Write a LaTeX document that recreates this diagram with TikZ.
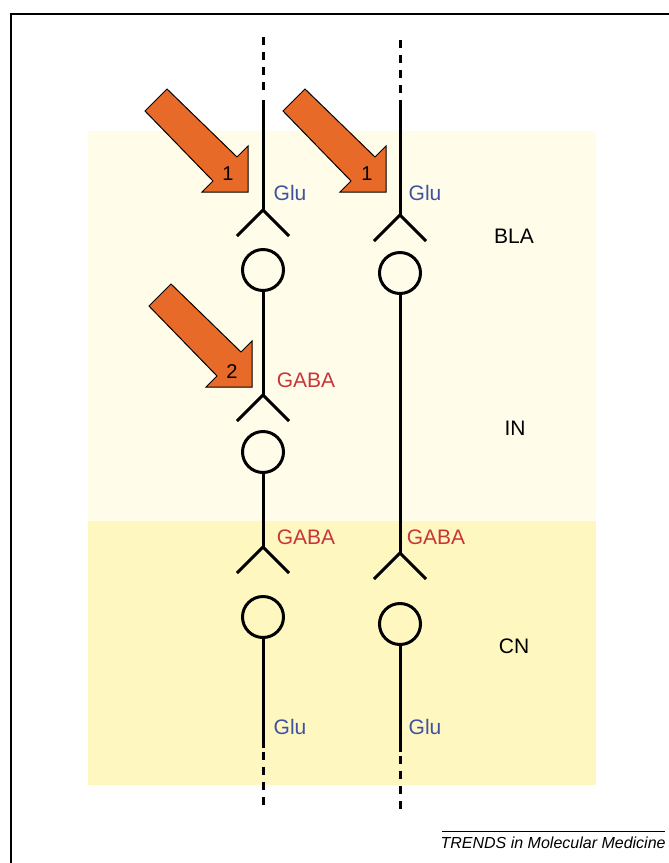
\documentclass[tikz,border=0pt]{standalone}
\usepackage{fontspec}
\setmainfont{Liberation Sans}
\usetikzlibrary{calc}

\definecolor{blapale}{HTML}{FFFDEA}
\definecolor{cnyellow}{HTML}{FEF8C0}
\definecolor{hitorange}{HTML}{E86A28}
\definecolor{glublue}{HTML}{3F51A3}
\definecolor{gabared}{HTML}{C8353A}

\begin{document}
\begin{tikzpicture}[
    x=0.5pt, y=-0.5pt,
    % neuron parts
    axon/.style={line width=1.5pt},
    dashaxon/.style={line width=1.5pt, dash pattern=on 4pt off 3.5pt},
    soma/.style={circle, draw, line width=1.5pt, minimum size=20.5pt, inner sep=0pt},
    % labels
    region/.style={font=\fontsize{10.5}{12}\selectfont, inner sep=1pt},
    glu/.style={text=glublue, font=\fontsize{10.5}{12}\selectfont, inner sep=1pt},
    gaba/.style={text=gabared, font=\fontsize{10.5}{12}\selectfont, inner sep=1pt},
    numlbl/.style={font=\fontsize{10}{12}\selectfont, inner sep=0pt},
    % stimulation arrows
    hitarrow/.style={fill=hitorange, draw=black, line width=0.5pt, line join=miter},
    hit/.pic={\draw[hitarrow] (0,0) -- (-46,0) -- (-35,-11) -- (-103,-81) -- (-81,-103) -- (-11,-35) -- (0,-46) -- cycle;}
]

    \useasboundingbox (0,0) rectangle (669,863);

    % --- Frame and background regions ---
    \draw[line width=1pt] (11,863) -- (11,14) -- (669,14);
    \fill[blapale] (88,131) rectangle (596,521);
    \fill[cnyellow] (88,521) rectangle (596,785);

    % --- Left chain (BLA -> IN -> CN) ---
    \coordinate (Ltop) at (263,37);
    \coordinate (Ldash) at (263,93);
    \coordinate (Lcut) at (263,100);
    \coordinate (Lf1) at (263,210);
    \node[soma] (Ls1) at (263,270) {};
    \coordinate (Lf2) at (263,395);
    \node[soma] (Ls2) at (263,452) {};
    \coordinate (Lf3) at (263,547);
    \node[soma] (Ls3) at (263,617) {};
    \coordinate (Lcut2) at (263,748);
    \coordinate (Ldash2) at (263,752);
    \coordinate (Lbot) at (263,808);

    \draw[dashaxon] (Ltop) -- (Ldash);
    \draw[axon] (Lcut) -- (Lf1);
    \draw[axon] (Ls1) -- (Lf2);
    \draw[axon] (Ls2) -- (Lf3);
    \draw[axon] (Ls3) -- (Lcut2);
    \draw[dashaxon] (Ldash2) -- (Lbot);

    % --- Right chain (BLA -> CN) ---
    \coordinate (Rtop) at (400,40);
    \coordinate (Rdash) at (400,93);
    \coordinate (Rcut) at (400,100);
    \coordinate (Rf1) at (400,215);
    \node[soma] (Rs1) at (400,273) {};
    \coordinate (Rf2) at (400,553);
    \node[soma] (Rs2) at (400,624) {};
    \coordinate (Rcut2) at (400,752);
    \coordinate (Rdash2) at (400,756);
    \coordinate (Rbot) at (400,815);

    \draw[dashaxon] (Rtop) -- (Rdash);
    \draw[axon] (Rcut) -- (Rf1);
    \draw[axon] (Rs1) -- (Rf2);
    \draw[axon] (Rs2) -- (Rcut2);
    \draw[dashaxon] (Rdash2) -- (Rbot);

    % --- Synaptic forks ---
    \foreach \f in {Lf1, Lf2, Lf3, Rf1, Rf2} {
        \draw[axon] ($(\f)+(-26,26)$) -- (\f) -- ($(\f)+(26,26)$);
    }

    % --- Transmitter labels ---
    \node[glu] (gluL1) at (290,193) {Glu};
    \node[glu] (gluR1) at (425,193) {Glu};
    \node[gaba] (gabaL1) at (306,380) {GABA};
    \node[gaba] (gabaL2) at (306,537) {GABA};
    \node[gaba] (gabaR2) at (436,537) {GABA};
    \node[glu] (gluL2) at (290,727) {Glu};
    \node[glu] (gluR2) at (425,727) {Glu};

    % --- Region labels ---
    \node[region] (bla) at (514,236) {BLA};
    \node[region] (in) at (515,428) {IN};
    \node[region] (cn) at (514,646) {CN};

    % --- Stimulation arrows ---
    \pic at (248,192) {hit};
    \node[numlbl] (n1a) at (228,174) {1};
    \pic at (386,192) {hit};
    \node[numlbl] (n1b) at (367,174) {1};
    \pic at (252,387) {hit};
    \node[numlbl] (n2) at (232,372) {2};

    % --- Journal tag ---
    \coordinate (tagL) at (442,831);
    \coordinate (tagR) at (665,831);
    \draw[line width=0.5pt] (tagL) -- (tagR);
    \node[anchor=east, inner sep=0pt, font=\fontsize{8}{10}\selectfont\itshape] (tag) at (666,843) {TRENDS in Molecular Medicine};

\end{tikzpicture}
\end{document}
